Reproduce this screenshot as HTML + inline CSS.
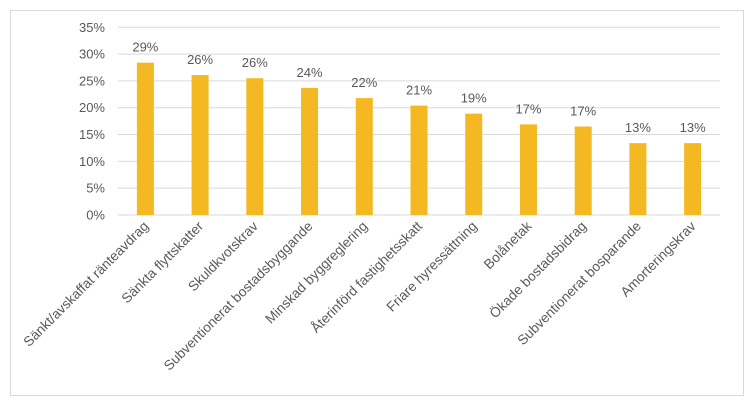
<!DOCTYPE html>
<html><head><meta charset="utf-8"><style>
body{margin:0;background:#fff;font-family:"Liberation Sans",Arial,sans-serif;}
svg text{font-family:"Liberation Sans",Arial,sans-serif;fill:#595959;}
</style></head><body>
<svg width="754" height="406">
<rect x="10.5" y="10.5" width="733" height="385" fill="#fff" stroke="#d9d9d9"/>
<g id="grid"></g><g id="bars"></g><g id="labels"></g>
</svg>
<script>
const categories=["Sänkt/avskaffat ränteavdrag","Sänkta flyttskatter","Skuldkvotskrav","Subventionerat bostadsbyggande","Minskad byggreglering","Återinförd fastighetsskatt","Friare hyressättning","Bolånetak","Ökade bostadsbidrag","Subventionerat bosparande","Amorteringskrav"];
const values=[28.4,26.1,25.5,23.7,21.8,20.4,18.9,16.9,16.5,13.4,13.4];
const valueLabels=["29%","26%","26%","24%","22%","21%","19%","17%","17%","13%","13%"];
const ticks=[0,5,10,15,20,25,30,35];
const tickLabels=["0%","5%","10%","15%","20%","25%","30%","35%"];
const NS="http://www.w3.org/2000/svg";
const x0=118,x1=720,y0=215,y1=27.3,maxV=35;
const y=v=>y0-(v/maxV)*(y0-y1);
const step=(x1-x0)/categories.length;
const xc=i=>x0+step*(i+0.5);
function mk(t,a,p){const e=document.createElementNS(NS,t);for(const k in a)e.setAttribute(k,a[k]);p.appendChild(e);return e;}
const grid=document.getElementById('grid'),bars=document.getElementById('bars'),labels=document.getElementById('labels');
ticks.forEach((t,i)=>{
 const l=mk('line',{x1:x0,x2:x1,y1:y(t),y2:y(t),stroke:'#d9d9d9'},grid);
 
 
 const tx=mk('text',{x:105,y:y(t)+4.5,'text-anchor':'end','font-size':'13'},grid);
 tx.textContent=tickLabels[i];
 
 
});
categories.forEach((c,i)=>{
 const b=mk('rect',{x:xc(i)-8.5,y:y(values[i]),width:17,height:y0-y(values[i]),fill:'#f4b822'},bars);
 
 
 const v=mk('text',{x:xc(i),y:y(values[i])-11,'text-anchor':'middle','font-size':'13'},labels);
 v.textContent=valueLabels[i];
 
 
 const cx=xc(i)+4,cy=227;
 const t=mk('text',{x:cx,y:cy,'text-anchor':'end','font-size':'13.7',transform:`rotate(-45 ${cx} ${cy})`},labels);
 t.textContent=c;
 
 
});
</script>
</body></html>
